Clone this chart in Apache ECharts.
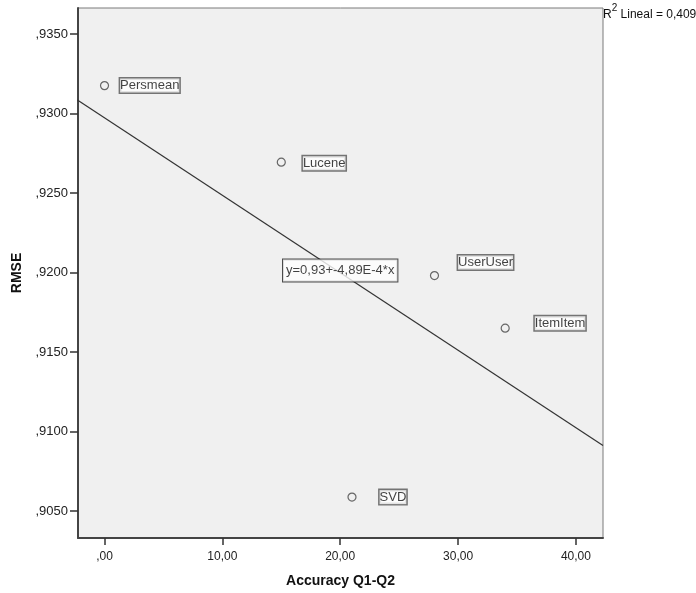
<!DOCTYPE html>
<html><head><meta charset="utf-8">
<script src="https://cdn.jsdelivr.net/npm/echarts@6/dist/echarts.min.js"></script>
<style>html,body{margin:0;padding:0;background:#fff}#c{width:696px;height:593px}</style>
</head><body><div id="c"></div>
<script>
const names = ['Persmean','Lucene','UserUser','ItemItem','SVD'];
const accuracy = [0, 15, 28, 34, 21];
const rmse = [0.93175, 0.92694, 0.91981, 0.9165, 0.90588];
const xTicks = [0, 10, 20, 30, 40];
const yTicks = [0.905, 0.910, 0.915, 0.920, 0.925, 0.930, 0.935];
const fitX = [-2.3, 42.3];
const fitY = [0.93085, 0.90912];
const equationText = 'y=0,93+-4,89E-4*x';
const equationAt = [20, 0.92013];
const r2Text = '0,409';

const labelOffsets = {
  Persmean: [6, 0], Lucene: [12, 1], UserUser: [14, -13], ItemItem: [20, -5], SVD: [18, 0]
};
const font = 'Liberation Sans, Arial, sans-serif';
const chart = echarts.init(document.getElementById('c'));
chart.setOption({
  backgroundColor: '#ffffff',
  animation: false,
  grid: { left: 78, top: 8, right: 93, bottom: 52, show: true, backgroundColor: '#f0f0f0', borderColor: '#7a7a7a', borderWidth: 1 },
  xAxis: {
    type: 'value', min: -2.25, max: 42.3,
    name: 'Accuracy Q1-Q2', nameLocation: 'middle', nameGap: 36,
    nameTextStyle: { fontFamily: font, fontWeight: 'bold', fontSize: 14, color: '#111' },
    axisLine: { show: true, onZero: false, lineStyle: { color: '#444', width: 2 } },
    axisTick: { show: true, length: 7, customValues: xTicks, lineStyle: { color: '#333', width: 1.5 } },
    axisLabel: { customValues: xTicks, fontFamily: font, fontSize: 12, color: '#222', margin: 13,
      formatter: v => v.toFixed(2).replace('.', ',').replace(/^0,/, ',') },
    splitLine: { show: false }
  },
  yAxis: {
    type: 'value', min: 0.90331, max: 0.93663,
    name: 'RMSE', nameLocation: 'middle', nameGap: 50, nameRotate: 90,
    nameTextStyle: { fontFamily: font, fontWeight: 'bold', fontSize: 14, color: '#111' },
    axisLine: { show: true, onZero: false, lineStyle: { color: '#444', width: 2 } },
    axisTick: { show: true, length: 8, customValues: yTicks, lineStyle: { color: '#333', width: 1.5 } },
    axisLabel: { customValues: yTicks, fontFamily: font, fontSize: 13, color: '#222', margin: 10,
      formatter: v => v.toFixed(4).replace(/^0\./, ',') },
    splitLine: { show: false }
  },
  series: [
    {
      type: 'line', data: fitX.map((x, i) => [x, fitY[i]]), symbol: 'none', silent: true,
      lineStyle: { color: '#333', width: 1.2 }, z: 2
    },
    {
      type: 'scatter', symbol: 'circle', symbolSize: 8,
      itemStyle: { color: 'rgba(0,0,0,0)', borderColor: '#444', borderWidth: 1.2 },
      data: names.map((n, i) => ({
        value: [accuracy[i], rmse[i]], name: n,
        label: { show: true, position: 'right', offset: labelOffsets[n], formatter: n,
          fontFamily: font, fontSize: 13, color: '#111', backgroundColor: '#fff',
          borderColor: '#555', borderWidth: 1.5, padding: [1, 0, 0, 0] }
      })), z: 3
    },
    {
      type: 'scatter', symbolSize: 0, silent: true,
      data: [{ value: equationAt, label: { show: true, position: 'inside', formatter: equationText,
        fontFamily: font, fontSize: 13, color: '#111', backgroundColor: '#fff', borderColor: '#222',
        borderWidth: 1, padding: [5, 3, 4, 3] } }], z: 4
    }
  ],
  graphic: [{
    type: 'text', left: 603, top: 3, silent: true,
    style: { text: '{a|R}{s|2}{a| Lineal = ' + r2Text + '}', fill: '#111',
      rich: { a: { fontFamily: font, fontSize: 12, fill: '#111', verticalAlign: 'bottom', lineHeight: 18, padding: [4,0,0,0] },
              s: { fontFamily: font, fontSize: 10, fill: '#111', verticalAlign: 'top', lineHeight: 16 } } }
  }]
});
</script></body></html>
